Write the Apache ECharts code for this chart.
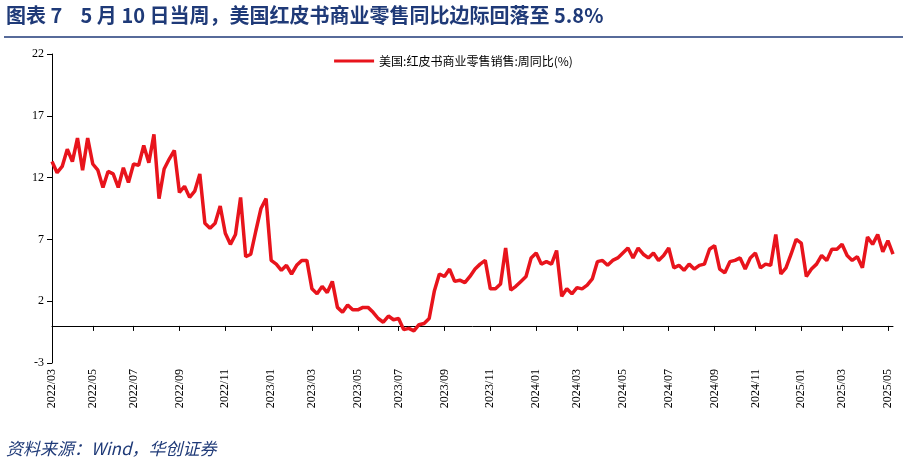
<!DOCTYPE html>
<html><head><meta charset="utf-8">
<script src="https://cdn.jsdelivr.net/npm/echarts@6/dist/echarts.min.js"></script>
<style>html,body{margin:0;padding:0;background:#fff}#c{width:907px;height:465px}</style>
</head><body><div id="c"></div>
<script>
const seriesName = '美国:红皮书商业零售销售:周同比(%)';
const values = [
13.3,12.4,12.9,14.3,13.3,15.2,12.6,15.2,13.1,12.6,11.2,12.5,12.3,11.2,12.8,11.6,13.1,13.0,14.6,13.2,15.5,10.3,12.7,13.5,14.2,10.8,11.3,10.4,10.9,12.3,8.3,7.9,8.3,9.7,7.5,6.6,7.4,10.4,5.6,5.8,7.7,9.5,10.3,5.3,5.0,4.5,4.9,4.2,4.9,
5.3,5.3,3.0,2.6,3.2,2.7,3.6,1.5,1.1,1.7,1.3,1.3,1.5,1.5,1.1,0.6,0.3,0.8,0.5,0.6,-0.3,-0.2,-0.4,0.1,0.2,0.6,2.8,4.2,4.0,4.6,3.6,3.7,3.5,4.0,4.6,5.0,5.3,3.0,3.0,3.4,6.3,2.9,3.2,3.6,4.0,5.5,5.9,5.0,5.2,5.0,
6.1,2.4,3.0,2.6,3.1,3.0,3.3,3.8,5.2,5.3,4.9,5.3,5.5,5.9,6.3,5.5,6.3,5.8,5.5,5.9,5.3,5.7,6.3,4.7,4.9,4.5,5.0,4.6,4.9,5.0,6.2,6.5,4.6,4.3,5.2,5.3,5.5,4.6,5.5,5.9,4.7,5.0,4.9,7.4,4.2,4.7,5.8,7.0,6.7,4.0,4.6,5.0,5.7,5.3,6.2,6.2,6.6,5.7,5.3,5.6,4.7,7.2,6.6,7.4,6.0,6.9,5.8];
const lastDate = '2025-05-10';
const yTicks = [-3, 2, 7, 12, 17, 22];

const end = new Date(lastDate + 'T00:00:00Z');
const dates = values.map((v, i) => {
  const d = new Date(end.getTime() - (values.length - 1 - i) * 7 * 86400000);
  return d.getUTCFullYear() + '/' + String(d.getUTCMonth() + 1).padStart(2, '0');
});
const show = dates.map((m, i) => {
  const mo = parseInt(m.slice(5), 10);
  return mo % 2 === 1 && (i === 0 || dates[i - 1] !== m);
});
const intervalFn = (i) => show[i];

const chart = echarts.init(document.getElementById('c'));
chart.setOption({
  animation: false,
  graphic: [
    {type:'text', left: 6, top: 5, style:{text:'图表 7    5 月 10 日当周，美国红皮书商业零售同比边际回落至 5.8%', font:'bold 20px "Noto Sans CJK SC"', fill:'#1f3a78'}},
    {type:'line', shape:{x1:4,y1:37,x2:903,y2:37}, style:{stroke:'#1f3a78', lineWidth:1.5}},
    {type:'text', left: 6, top: 440, style:{text:'资料来源：Wind，华创证券', font:'italic 17px "Noto Sans CJK SC"', fill:'#1f3a78'}}
  ],
  legend: {top: 50, left: 'center', itemWidth: 40, itemHeight: 3, icon: 'rect',
    textStyle:{fontSize:12, color:'#000', fontFamily:'"Noto Sans CJK SC"'}},
  grid: {left: 52, right: 14, top: 54, bottom: 102},
  xAxis: [
    {type:'category', data: dates, boundaryGap:false,
     axisLine:{onZero:true, lineStyle:{color:'#000'}},
     axisTick:{interval:intervalFn, inside:false, length:5, lineStyle:{color:'#000'}},
     axisLabel:{show:false}},
    {type:'category', data: dates, boundaryGap:false, position:'bottom',
     axisLine:{show:false}, axisTick:{show:false},
     axisLabel:{interval:intervalFn, rotate:90, fontSize:12, color:'#000', fontFamily:'"Liberation Serif"', margin:6}}
  ],
  yAxis: {type:'value', min:yTicks[0], max:yTicks[yTicks.length-1], interval:5,
    splitLine:{show:false},
    axisLine:{show:true, lineStyle:{color:'#000'}},
    axisTick:{show:true, length:5, inside:false, lineStyle:{color:'#000'}},
    axisLabel:{fontSize:12, color:'#000', fontFamily:'"Liberation Serif"'}},
  series: [{name: seriesName, type:'line', xAxisIndex:0, data: values, symbol:'none',
    lineStyle:{color:'#e8141c', width:3.5}, itemStyle:{color:'#e8141c'}}]
});
</script></body></html>
